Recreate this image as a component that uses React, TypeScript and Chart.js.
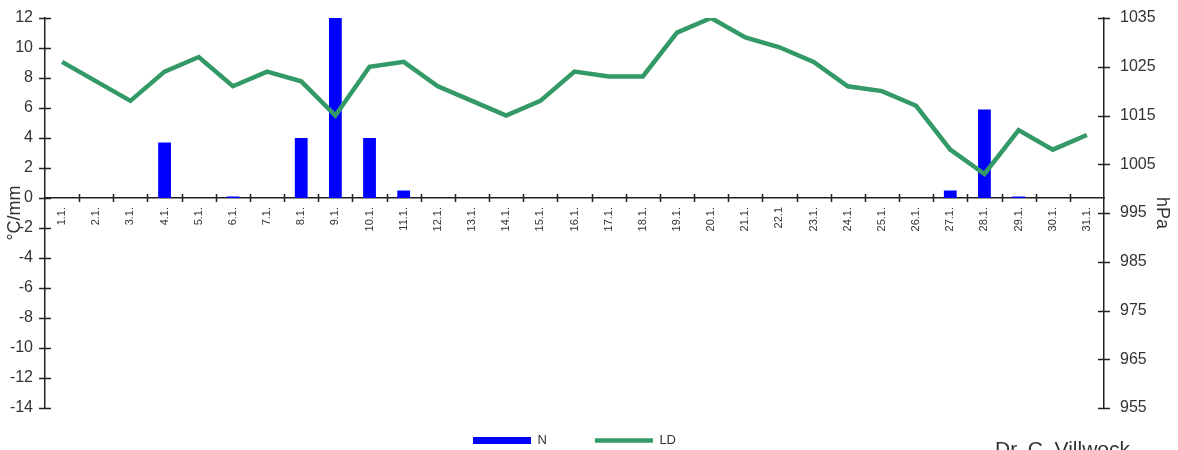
import React, { useEffect, useRef } from "react";
import { Chart, registerables } from "chart.js";

Chart.register(...registerables);

const days = [
  "1.1.", "2.1.", "3.1.", "4.1.", "5.1.", "6.1.", "7.1.", "8.1.", "9.1.", "10.1.",
  "11.1.", "12.1.", "13.1.", "14.1.", "15.1.", "16.1.", "17.1.", "18.1.", "19.1.", "20.1.",
  "21.1.", "22.1", "23.1.", "24.1.", "25.1.", "26.1.", "27.1.", "28.1.", "29.1.", "30.1.", "31.1.",
];

// N: precipitation (mm), left axis
const precipitation = [
  0, 0, 0, 3.7, 0, 0.1, 0, 4.0, 12.0, 4.0,
  0.5, 0, 0, 0, 0, 0, 0, 0, 0, 0,
  0, 0, 0, 0, 0, 0, 0.5, 5.9, 0.1, 0, 0,
];

// LD: air pressure (hPa), right axis
const pressure = [
  1026, 1022, 1018, 1024, 1027, 1021, 1024, 1022, 1015, 1025,
  1026, 1021, 1018, 1015, 1018, 1024, 1023, 1023, 1032, 1035,
  1031, 1029, 1026, 1021, 1020, 1017, 1008, 1003, 1012, 1008, 1011,
];

const leftMin = -14;
const leftMax = 12;
const leftStep = 2;
const rightMin = 955;
const rightMax = 1035;
const rightStep = 10;

const seriesLabels = ["N", "LD"];
const leftTitle = "°C/mm";
const rightTitle = "hPa";
const credit = "Dr. C. Villwock";

const BLUE = "#0000FF";
const GREEN = "#339966";
const AXIS = "#222222";
const TEXT = "#333333";
const FONT = "'Liberation Sans', Arial, Helvetica, sans-serif";

const LEGEND_PAD = 48;
const LEGEND_LIFT = 22;

const crossTicks = {
  id: "crossTicks",
  afterLayout(chart: any) {
    const lg = chart.legend;
    if (lg) {
      lg.top -= LEGEND_LIFT;
      lg.height += LEGEND_LIFT;
    }
  },
  afterDatasetsDraw(chart: any) {
    const { ctx, scales } = chart;
    const x = scales.x;
    const y = scales.y;
    const y1 = scales.y1;
    const area = chart.chartArea;
    ctx.save();
    ctx.strokeStyle = AXIS;
    ctx.lineWidth = 1.5;
    ctx.beginPath();
    y.ticks.forEach((t: any) => {
      const py = Math.round(y.getPixelForValue(t.value)) + 0.5;
      ctx.moveTo(area.left - 6, py);
      ctx.lineTo(area.left + 6, py);
    });
    y1.ticks.forEach((t: any) => {
      const py = Math.round(y1.getPixelForValue(t.value)) + 0.5;
      ctx.moveTo(area.right - 6, py);
      ctx.lineTo(area.right + 6, py);
    });
    const zero = y.getPixelForValue(0);
    for (let k = 1; k < days.length; k++) {
      const px = Math.round((x.getPixelForValue(k - 1) + x.getPixelForValue(k)) / 2) + 0.5;
      ctx.moveTo(px, zero - 4);
      ctx.lineTo(px, zero + 4);
    }
    ctx.stroke();
    ctx.restore();
  },
};

export default function App() {
  const canvasRef = useRef<HTMLCanvasElement | null>(null);

  useEffect(() => {
    if (!canvasRef.current) return;
    Chart.defaults.font.family = FONT;
    const chart = new Chart(canvasRef.current, {
      type: "bar",
      data: {
        labels: days,
        datasets: [
          {
            type: "bar",
            label: seriesLabels[0],
            data: precipitation,
            backgroundColor: BLUE,
            borderWidth: 0,
            yAxisID: "y",
            barPercentage: 0.75,
            categoryPercentage: 0.5,
            order: 1,
          },
          {
            type: "line",
            label: seriesLabels[1],
            data: pressure,
            borderColor: GREEN,
            backgroundColor: GREEN,
            borderWidth: 4.5,
            pointRadius: 0,
            pointHoverRadius: 0,
            tension: 0,
            fill: false,
            yAxisID: "y1",
            order: 0,
          } as any,
        ],
      },
      options: {
        animation: false,
        responsive: true,
        maintainAspectRatio: false,
        layout: { padding: { top: 18, left: 0, right: 0, bottom: 0 } },
        plugins: {
          tooltip: { enabled: false },
          legend: {
            position: "bottom",
            fullSize: false,
            maxHeight: 42,
            labels: {
              usePointStyle: true,
              pointStyleWidth: 58,
              boxHeight: 7,
              padding: LEGEND_PAD,
              color: TEXT,
              font: { size: 13, family: FONT },
              generateLabels: (c: any) =>
                c.data.datasets.map((ds: any, i: number) => ({
                  text: ds.label,
                  fillStyle: i === 0 ? BLUE : GREEN,
                  strokeStyle: i === 0 ? BLUE : GREEN,
                  lineWidth: i === 0 ? 0 : 4.5,
                  pointStyle: i === 0 ? "rect" : "line",
                  datasetIndex: i,
                  hidden: false,
                  fontColor: TEXT,
                })),
            },
          } as any,
        },
        scales: {
          x: {
            type: "category",
            position: { y: 0 } as any,
            offset: true,
            grid: { display: false, drawTicks: false },
            border: { display: true, color: AXIS, width: 1.5 },
            ticks: {
              autoSkip: false,
              minRotation: 90,
              maxRotation: 90,
              padding: 9,
              color: TEXT,
              font: { size: 11, family: FONT },
            },
            afterFit: (s: any) => {
              s.height = 0;
            },
          },
          y: {
            type: "linear",
            position: "left",
            min: leftMin,
            max: leftMax,
            grid: { display: false, drawTicks: false },
            border: { display: true, color: AXIS, width: 1.5 },
            ticks: {
              stepSize: leftStep,
              padding: 12,
              color: TEXT,
              font: { size: 16, family: FONT },
              callback: (v: any) => String(v),
            },
            title: {
              display: true,
              text: leftTitle,
              color: TEXT,
              font: { size: 18, family: FONT },
              padding: { top: 4, bottom: 0 },
            },
            afterFit: (s: any) => {
              s.width = 45;
              s.paddingTop = 8;
              s.paddingBottom = 8;
            },
          },
          y1: {
            type: "linear",
            position: "right",
            min: rightMin,
            max: rightMax,
            grid: { display: false, drawTicks: false },
            border: { display: true, color: AXIS, width: 1.5 },
            ticks: {
              stepSize: rightStep,
              padding: 16,
              color: TEXT,
              font: { size: 16, family: FONT },
              callback: (v: any) => String(v),
            },
            title: {
              display: true,
              text: rightTitle,
              color: TEXT,
              font: { size: 18, family: FONT },
              padding: { top: 5, bottom: 0 },
            },
            afterFit: (s: any) => {
              s.width = 74;
              s.paddingTop = 8;
              s.paddingBottom = 8;
            },
          },
        },
      },
      plugins: [crossTicks],
    } as any);
    return () => chart.destroy();
  }, []);

  return (
    <div
      style={{
        position: "fixed",
        left: 0,
        top: 0,
        width: 1178,
        height: 450,
        overflow: "hidden",
        background: "#ffffff",
      }}
    >
      <div style={{ position: "absolute", left: 0, top: 0, width: 1178, height: 450 }}>
        <canvas ref={canvasRef} />
      </div>
      <div
        style={{
          position: "absolute",
          left: 995,
          top: 437,
          fontFamily: FONT,
          fontSize: 21,
          color: TEXT,
          whiteSpace: "nowrap",
        }}
      >
        {credit}
      </div>
    </div>
  );
}
